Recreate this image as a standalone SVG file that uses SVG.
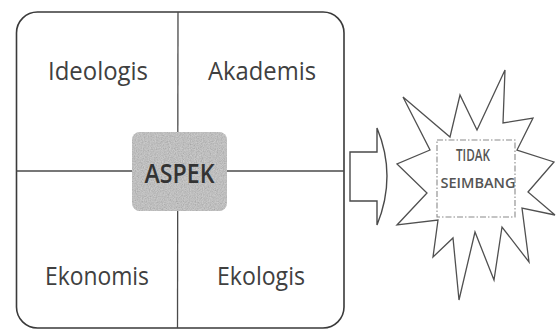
<svg xmlns="http://www.w3.org/2000/svg" width="556" height="329" viewBox="0 0 556 329">
  <defs>
    <style>
      .frame { fill: #ffffff; stroke: #3a3a3a; stroke-width: 1.6; }
      .divider { stroke: #4a4a4a; stroke-width: 1.3; fill: none; }
      .label { font-family: "Open Sans", "Liberation Sans", sans-serif; font-size: 25px; fill: #404040; text-anchor: middle; }
      .aspek-text { font-family: "Open Sans", "Liberation Sans", sans-serif; font-size: 27px; fill: #333333; text-anchor: middle; font-weight: 600; }
      .star { fill: #ffffff; stroke: #505050; stroke-width: 1.3; stroke-linejoin: miter; }
      .inner-box { fill: none; stroke: #8a8a8a; stroke-width: 1.1; stroke-dasharray: 6 2 1.5 2; }
      .star-text { font-family: "Open Sans", "Liberation Sans", sans-serif; font-weight: 600; fill: #555555; text-anchor: middle; }
      .arrow { fill: #ffffff; stroke: #4a4a4a; stroke-width: 1.4; stroke-linejoin: miter; }
    </style>
    <filter id="grain" x="0" y="0" width="100%" height="100%">
      <feTurbulence type="fractalNoise" baseFrequency="0.85" numOctaves="2" seed="7" result="noise"/>
      <feColorMatrix in="noise" type="saturate" values="0" result="gray"/>
      <feComponentTransfer in="gray" result="g2">
        <feFuncR type="linear" slope="1.4" intercept="0"/>
        <feFuncG type="linear" slope="1.4" intercept="0"/>
        <feFuncB type="linear" slope="1.4" intercept="0"/>
        <feFuncA type="linear" slope="0" intercept="1"/>
      </feComponentTransfer>
      <feComposite in="g2" in2="SourceGraphic" operator="in"/>
    </filter>
  </defs>

  <g id="aspect-frame">
    <rect class="frame" x="16.5" y="12" width="327.5" height="316" rx="21" ry="21"/>
    <line class="divider" x1="178" y1="12" x2="177.5" y2="328"/>
    <line class="divider" x1="16.5" y1="171" x2="344" y2="171"/>
  </g>

  <g id="node-ideologis">
    <text class="label" x="98" y="80" textLength="100" lengthAdjust="spacingAndGlyphs">Ideologis</text>
  </g>
  <g id="node-akademis">
    <text class="label" x="262" y="80" textLength="108" lengthAdjust="spacingAndGlyphs">Akademis</text>
  </g>
  <g id="node-ekonomis">
    <text class="label" x="97" y="285" textLength="104" lengthAdjust="spacingAndGlyphs">Ekonomis</text>
  </g>
  <g id="node-ekologis">
    <text class="label" x="261" y="285" textLength="88" lengthAdjust="spacingAndGlyphs">Ekologis</text>
  </g>

  <g id="node-aspek">
    <rect x="132" y="132" width="95" height="79" rx="8" ry="8" fill="#b0b0b0"/>
    <rect x="132" y="132" width="95" height="79" rx="8" ry="8" fill="#000" filter="url(#grain)" opacity="0.35"/>
    <text class="aspek-text" x="179.5" y="183" textLength="70" lengthAdjust="spacingAndGlyphs">ASPEK</text>
  </g>

  <g id="connectors">
    <path class="arrow" d="M350,152 H377 V128 Q397,176 377,225 V201 H350 Z"/>
  </g>

  <g id="node-tidak-seimbang">
    <polygon class="star" points="403,97 450,137 460,95 477,130 505,70 503,123 533,118 517,150 554,162 528,192 555,215 522,208 529,262 502,227 494,280 475,232 459,300 453,238 433,257 438,220 397,225 427,193 397,164 430,150"/>
    <rect class="inner-box" x="437" y="140" width="78" height="77"/>
    <text class="star-text" x="473" y="161" font-size="17" textLength="34" lengthAdjust="spacingAndGlyphs">TIDAK</text>
    <text class="star-text" x="478" y="188" font-size="15" textLength="75" lengthAdjust="spacingAndGlyphs">SEIMBANG</text>
  </g>
</svg>
